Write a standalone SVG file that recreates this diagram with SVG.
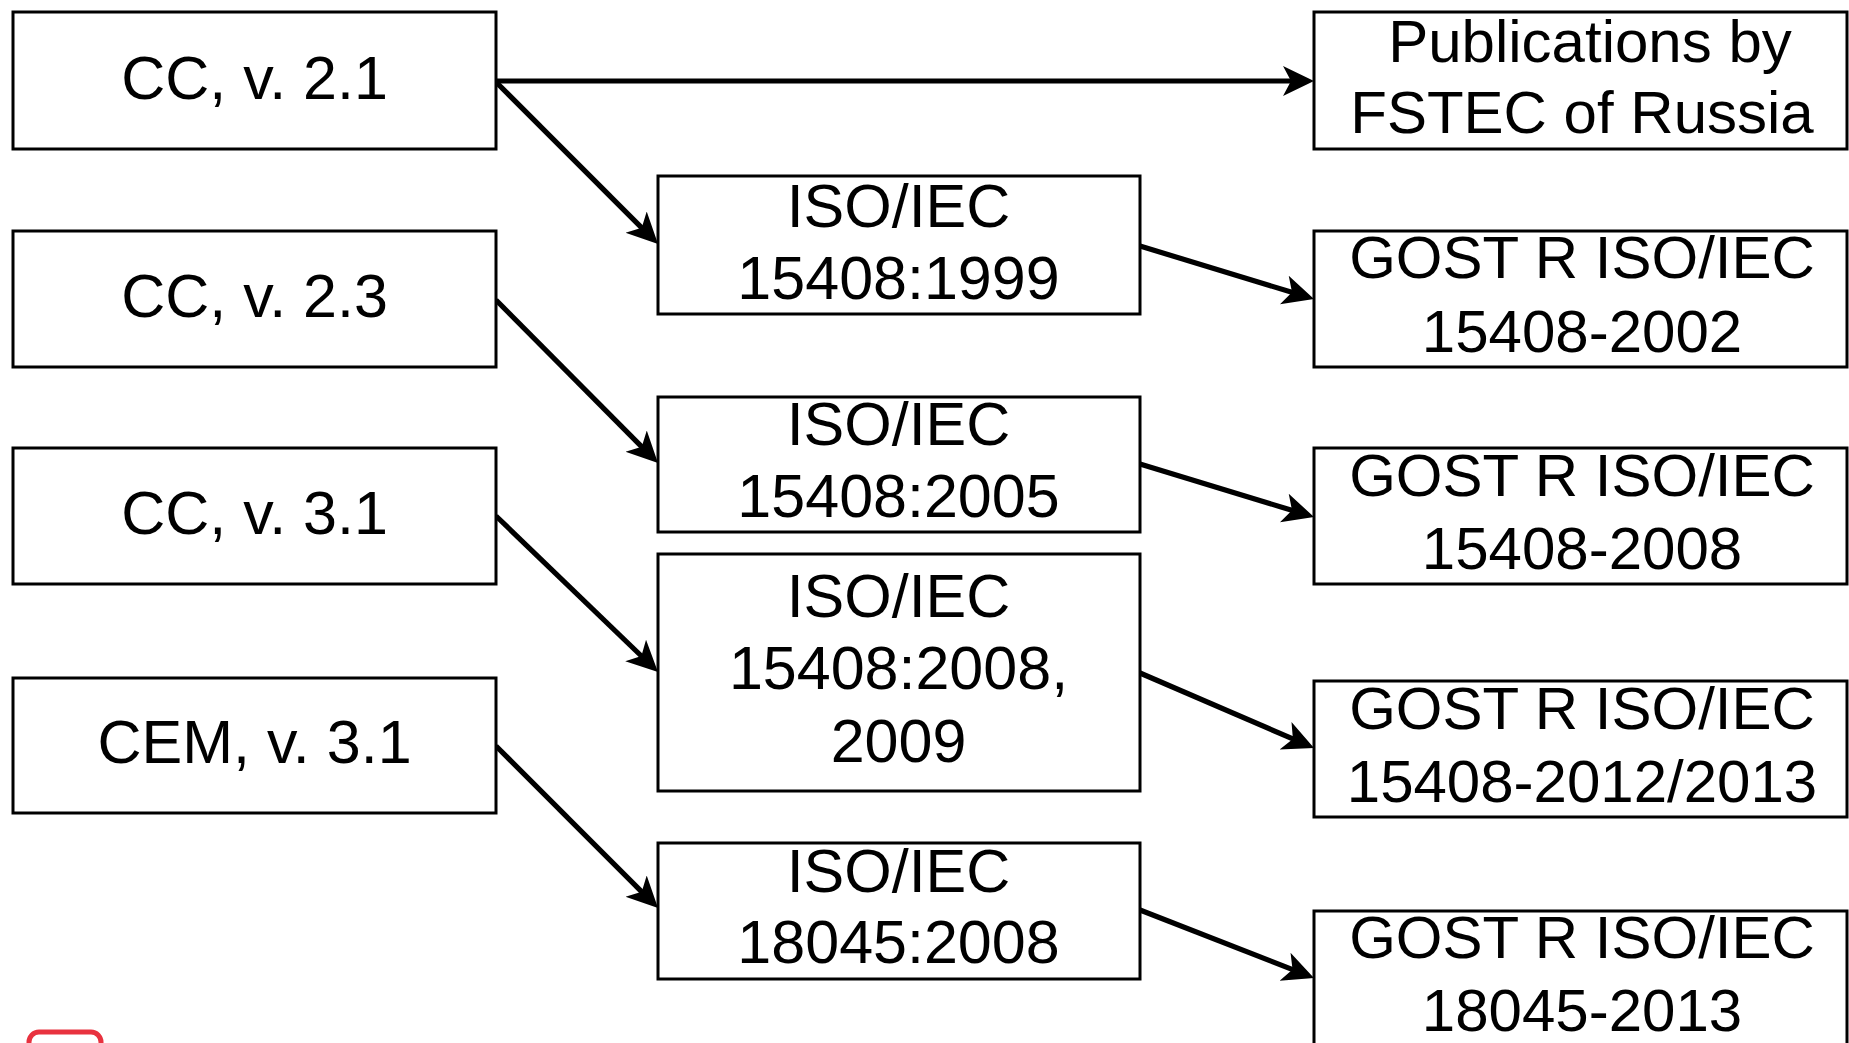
<svg xmlns="http://www.w3.org/2000/svg" width="1849" height="1043" viewBox="0 0 1849 1043">
<style>
.box{fill:#fff;stroke:#000;stroke-width:3}
.t{font-family:"Liberation Sans",Arial,sans-serif;font-size:61px;fill:#000;text-anchor:middle}
.g{font-size:60px}
.c{fill:none;stroke:#000;stroke-width:5.2}
</style>
<defs>
<marker id="ah" markerUnits="userSpaceOnUse" markerWidth="40" markerHeight="40" viewBox="0 -20 40 40" refX="13" refY="0" orient="auto">
<path d="M0,-15 L31,0 L0,15 L8,0 Z" fill="#000"/>
</marker>
</defs>
<rect width="1849" height="1043" fill="#fff"/>
<g id="connectors">
<path class="c" d="M496,81 L1296,81" marker-end="url(#ah)"/>
<path class="c" d="M496,82 L645.3,231.3" marker-end="url(#ah)"/>
<path class="c" d="M496,300 L645.3,450.3" marker-end="url(#ah)"/>
<path class="c" d="M496,516 L645,659.5" marker-end="url(#ah)"/>
<path class="c" d="M496,746 L645.3,895.3" marker-end="url(#ah)"/>
<path class="c" d="M1140,246 L1296.8,293.8" marker-end="url(#ah)"/>
<path class="c" d="M1140,464 L1296.8,511.8" marker-end="url(#ah)"/>
<path class="c" d="M1140,673 L1297.5,740.9" marker-end="url(#ah)"/>
<path class="c" d="M1140,910 L1297.2,971.4" marker-end="url(#ah)"/>
</g>
<g id="cc21"><rect class="box" x="13" y="12" width="483" height="137"/><text class="t" x="254.5" y="99">CC, v. 2.1</text></g>
<g id="cc23"><rect class="box" x="13" y="231" width="483" height="136"/><text class="t" x="254.5" y="317">CC, v. 2.3</text></g>
<g id="cc31"><rect class="box" x="13" y="448" width="483" height="136"/><text class="t" x="254.5" y="534">CC, v. 3.1</text></g>
<g id="cem31"><rect class="box" x="13" y="678" width="483" height="135"/><text class="t" x="254.5" y="763">CEM, v. 3.1</text></g>
<g id="iso1999"><rect class="box" x="658" y="176" width="482" height="138"/><text class="t" x="898.5" y="227">ISO/IEC</text><text class="t" x="898.5" y="299">15408:1999</text></g>
<g id="iso2005"><rect class="box" x="658" y="397" width="482" height="135"/><text class="t" x="898.5" y="445">ISO/IEC</text><text class="t" x="898.5" y="517">15408:2005</text></g>
<g id="iso2008"><rect class="box" x="658" y="554" width="482" height="237"/><text class="t" x="898.5" y="617">ISO/IEC</text><text class="t" x="898.5" y="689">15408:2008,</text><text class="t" x="898.5" y="762">2009</text></g>
<g id="iso18045"><rect class="box" x="658" y="843" width="482" height="136"/><text class="t" x="898.5" y="892">ISO/IEC</text><text class="t" x="898.5" y="963">18045:2008</text></g>
<g id="fstec"><rect class="box" x="1314" y="12" width="533" height="137"/><text class="t g" x="1590" y="62">Publications by</text><text class="t g" x="1582" y="133">FSTEC of Russia</text></g>
<g id="gost2002"><rect class="box" x="1314" y="231" width="533" height="136"/><text class="t g" x="1582" y="278">GOST R ISO/IEC</text><text class="t g" x="1582" y="352">15408-2002</text></g>
<g id="gost2008"><rect class="box" x="1314" y="448" width="533" height="136"/><text class="t g" x="1582" y="496">GOST R ISO/IEC</text><text class="t g" x="1582" y="569">15408-2008</text></g>
<g id="gost2012"><rect class="box" x="1314" y="681" width="533" height="136"/><text class="t g" x="1582" y="729">GOST R ISO/IEC</text><text class="t g" x="1582" y="802">15408-2012/2013</text></g>
<g id="gost18045"><rect class="box" x="1314" y="911" width="533" height="150"/><text class="t g" x="1582" y="958">GOST R ISO/IEC</text><text class="t g" x="1582" y="1031">18045-2013</text></g>
<g id="logo"><rect x="29" y="1032" width="72" height="40" rx="10" fill="none" stroke="#e8323f" stroke-width="5"/></g>
</svg>
